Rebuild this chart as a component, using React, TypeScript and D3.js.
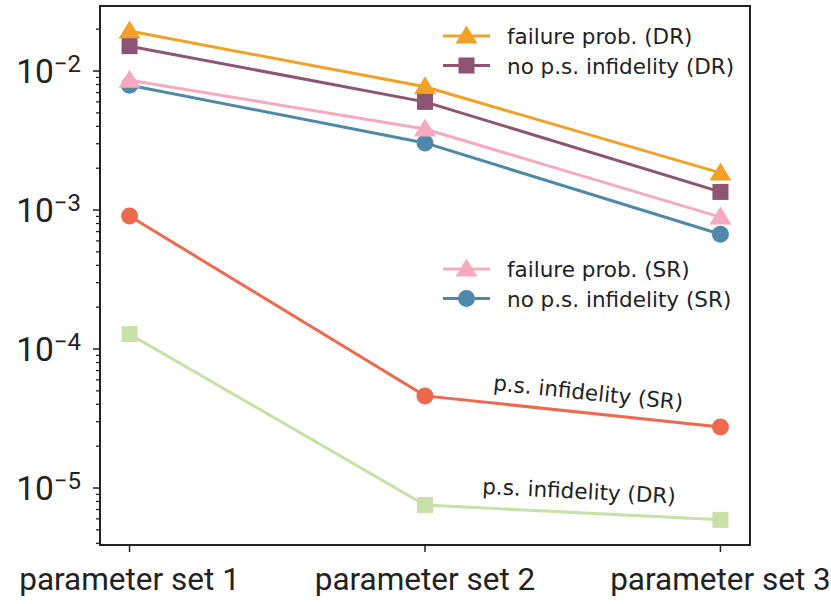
import * as d3 from "d3";

const categories = ["parameter set 1", "parameter set 2", "parameter set 3"];
const failureDR = [0.0194, 0.0077, 0.00185];
const noPsDR = [0.0151, 0.006, 0.00135];
const noPsSR = [0.0079, 0.00304, 0.00067];
const failureSR = [0.0086, 0.00383, 0.00089];
const psInfSR = [0.000905, 0.000046, 0.0000275];
const psInfDR = [0.000128, 0.00000755, 0.0000059];
const yTickPowers = [-2, -3, -4, -5];

const W = 831;
const H = 604;
const m = { left: 100, right: 81, top: 6, bottom: 59 };

const series = [
  { name: "failure prob. (DR)", values: failureDR, color: "#f2a128", marker: "tri" },
  { name: "no p.s. infidelity (DR)", values: noPsDR, color: "#8e5572", marker: "sq" },
  { name: "no p.s. infidelity (SR)", values: noPsSR, color: "#4f89aa", marker: "circ" },
  { name: "failure prob. (SR)", values: failureSR, color: "#f7a9bf", marker: "tri" },
  { name: "p.s. infidelity (SR)", values: psInfSR, color: "#ee6a4f", marker: "circ" },
  { name: "p.s. infidelity (DR)", values: psInfDR, color: "#c9e1a8", marker: "sq" },
];

function Marker({ kind, x, y, color }: { kind: string; x: number; y: number; color: string }) {
  if (kind === "tri") {
    const s = 10;
    return (
      <path
        d={`M${x},${y - s * 1.05} L${x + s * 1.1},${y + s * 0.75} L${x - s * 1.1},${y + s * 0.75} Z`}
        fill={color}
      />
    );
  }
  if (kind === "sq") {
    return <rect x={x - 8} y={y - 8} width={16} height={16} fill={color} />;
  }
  return <circle cx={x} cy={y} r={8.5} fill={color} />;
}

export default function App() {
  const x = d3
    .scalePoint<string>()
    .domain(categories)
    .range([m.left, W - m.right])
    .padding(0.1);
  const y = d3
    .scaleLog()
    .domain([Math.pow(10, -5.41), Math.pow(10, -1.532)])
    .range([H - m.bottom, m.top]);

  const minorTicks: number[] = [];
  for (let p = -6; p <= -1; p++) {
    for (let k = 2; k <= 9; k++) {
      const v = k * Math.pow(10, p);
      if (v >= y.domain()[0] && v <= y.domain()[1]) minorTicks.push(v);
    }
  }

  const line = d3
    .line<number>()
    .x((_, i) => x(categories[i])!)
    .y((d) => y(d));

  const legendA = [series[0], series[1]];
  const legendB = [series[3], series[2]];
  const legX = 443;

  const label = (text: string, a: number, b: number, v: number, dy: number) => {
    const x1 = x(categories[1])!;
    const x2 = x(categories[2])!;
    const y1 = y(a);
    const y2 = y(b);
    const ang = (Math.atan2(y2 - y1, x2 - x1) * 180) / Math.PI;
    const cx = x1 + (x2 - x1) * v;
    const cy = y1 + (y2 - y1) * v + dy;
    return (
      <text
        x={cx}
        y={cy}
        transform={`rotate(${ang},${cx},${cy})`}
        textAnchor="middle"
        fontFamily="DejaVu Sans"
        fontSize={21.5}
        fill="#222"
      >
        {text}
      </text>
    );
  };

  return (
    <svg width={W} height={H} style={{ position: "absolute", left: 0, top: 0, background: "#fff" }}>
      {/* minor ticks */}
      {minorTicks.map((v, i) => (
        <line key={i} x1={m.left - 4} x2={m.left} y1={y(v)} y2={y(v)} stroke="#222" strokeWidth={1.3} />
      ))}
      {yTickPowers.map((p) => (
        <g key={p}>
          <line x1={m.left - 7} x2={m.left} y1={y(Math.pow(10, p))} y2={y(Math.pow(10, p))} stroke="#222" strokeWidth={1.5} />
          <text
            x={m.left - 19}
            y={y(Math.pow(10, p)) + 12}
            textAnchor="end"
            fontFamily="Roboto"
            fontSize={33.5}
            fill="#222"
          >
            10
            <tspan dy={-11.5} fontSize={24}>
              {"\u2212" + Math.abs(p)}
            </tspan>
          </text>
        </g>
      ))}
      {categories.map((c) => (
        <g key={c}>
          <line x1={x(c)} x2={x(c)} y1={H - m.bottom} y2={H - m.bottom + 7} stroke="#222" strokeWidth={1.5} />
          <text x={x(c)} y={H - m.bottom + 45} textAnchor="middle" fontFamily="Roboto" fontSize={31.5} fill="#222">
            {c}
          </text>
        </g>
      ))}
      <rect
        x={m.left}
        y={m.top}
        width={W - m.left - m.right}
        height={H - m.top - m.bottom}
        fill="none"
        stroke="#222"
        strokeWidth={2}
      />
      {series.map((s) => (
        <g key={s.name}>
          <path d={line(s.values)!} fill="none" stroke={s.color} strokeWidth={3} />
          {s.values.map((v, i) => (
            <Marker key={i} kind={s.marker} x={x(categories[i])!} y={y(v)} color={s.color} />
          ))}
        </g>
      ))}
      {[
        { items: legendA, top: 36 },
        { items: legendB, top: 269 },
      ].map((g, gi) => (
        <g key={gi}>
          {g.items.map((s, i) => {
            const yy = g.top + i * 29.5;
            return (
              <g key={s.name}>
                <line x1={legX} x2={legX + 47} y1={yy} y2={yy} stroke={s.color} strokeWidth={3} />
                <Marker kind={s.marker} x={legX + 23.5} y={yy} color={s.color} />
                <text x={legX + 64} y={yy + 8} fontFamily="DejaVu Sans" fontSize={21.5} fill="#222">
                  {s.name}
                </text>
              </g>
            );
          })}
        </g>
      ))}
      {label("p.s. infidelity (SR)", psInfSR[1], psInfSR[2], 0.55, -13)}
      {label("p.s. infidelity (DR)", psInfDR[1], psInfDR[2], 0.52, -14)}
    </svg>
  );
}
